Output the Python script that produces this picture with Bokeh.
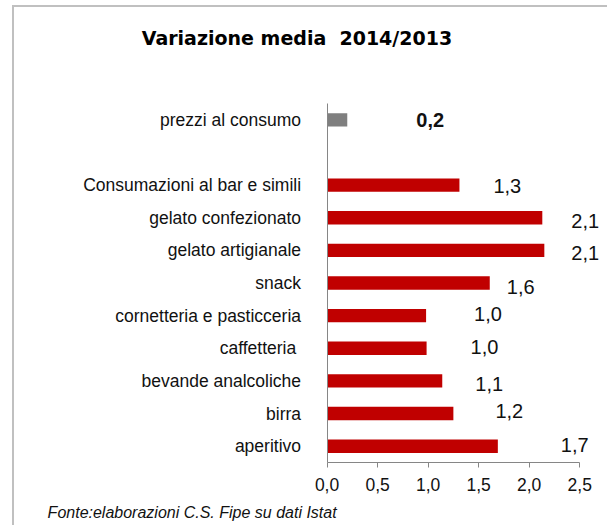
from bokeh.plotting import figure
from bokeh.models import Range1d, FixedTicker, ColumnDataSource
from bokeh.embed import file_html
from bokeh.resources import INLINE
from bokeh.core.properties import value

# ---- data (top to bottom as shown) ----
items = ["prezzi al consumo", "Consumazioni al bar e simili", "gelato confezionato",
         "gelato artigianale", "snack", "cornetteria e pasticceria", "caffetteria ",
         "bevande analcoliche", "birra", "aperitivo"]
values = [0.20, 1.31, 2.13, 2.15, 1.61, 0.98, 0.985, 1.14, 1.25, 1.69]
value_labels = ["0,2", "1,3", "2,1", "2,1", "1,6", "1,0", "1,0", "1,1", "1,2", "1,7"]
x_ticks = [0, 0.5, 1.0, 1.5, 2.0, 2.5]
x_tick_labels = ["0,0", "0,5", "1,0", "1,5", "2,0", "2,5"]
title_text = "Variazione media\u00a0 2014/2013"
source_text = "Fonte:elaborazioni C.S. Fipe su dati Istat"

# ---- styles / label placement (pixels) ----
label_dx = [69, 34, 29, 27, 17, 48, 44, 33, 42, 63]
label_dy = [0, 1, 3, 3, 4, -2, -1, 3, -3, -1]
RED = "#C00000"
GREY = "#7F7F7F"
FONT = "Liberation Sans"

# category slots, bottom -> top, with an empty slot between the reference and the rest
factors = list(reversed(items[1:])) + [" "] + [items[0]]
y_pos = [factors.index(it) for it in items]
colors = [GREY] + [RED] * (len(items) - 1)
styles = ["bold"] + ["normal"] * (len(items) - 1)

# ---- page geometry (pixels) ----
W, H = 607, 525
OX, OY = 14, 7                 # chart-area border offset
CX, CY = OX + 2, OY + 2        # where the drawing area actually starts on the page
AX_LEFT, AX_RIGHT = 327.5, 579.3   # page x of 0 and 2.5
AX_BOTTOM, AX_TOP = 462.25, 104.75  # page y of the plot area's bottom and top
n_slots = len(factors)
x_max = x_ticks[-1]
px_per_x = (AX_RIGHT - AX_LEFT) / x_max
px_per_slot = (AX_BOTTOM - AX_TOP) / n_slots

def to_x(px):
    return (px - AX_LEFT) / px_per_x

def to_y(py):
    return -0.5 + (AX_BOTTOM - py) / px_per_slot

src = ColumnDataSource(dict(y=y_pos, v=values, lab=value_labels, c=colors,
                            dx=label_dx, dy=label_dy, fs=styles))

cw, ch = W - OX, H - OY
p = figure(width=cw, height=ch, output_backend="svg", toolbar_location=None,
           x_range=Range1d(to_x(CX), to_x(CX + cw)), y_range=Range1d(to_y(CY + ch), to_y(CY)),
           min_border=0)
p.margin = (OY - 2, 0, 0, OX - 2)
p.styles = {"border-left": "2px solid #C0C0C0", "border-top": "2px solid #C0C0C0",
            "box-sizing": "content-box"}
p.outline_line_color = None
p.xgrid.visible = False
p.ygrid.visible = False
p.background_fill_color = "white"
p.border_fill_color = "white"

p.hbar(y="y", left=0, right="v", height=0.41, fill_color="c", line_color=None, source=src)
p.text(x="v", y="y", text="lab", x_offset="dx", y_offset="dy", source=src,
       text_align="left", text_baseline="middle", text_font=value(FONT),
       text_font_size="20px", text_font_style="fs", text_color="#111111")

xa = p.xaxis[0]
xa.fixed_location = -0.5
xa.ticker = FixedTicker(ticks=x_ticks)
xa.major_label_overrides = {t: l for t, l in zip(x_ticks, x_tick_labels)}
xa.bounds = (0, x_max)
xa.axis_line_color = "#868686"
xa.major_tick_line_color = "#868686"
xa.major_tick_in = 0
xa.major_tick_out = 5
xa.minor_tick_line_color = None
xa.major_label_text_font = FONT
xa.major_label_text_font_size = "17.5px"
xa.major_label_text_color = "#111111"
xa.major_label_standoff = 10

ya = p.yaxis[0]
ya.fixed_location = 0
ya.ticker = FixedTicker(ticks=y_pos)
ya.major_label_overrides = {yy: it for yy, it in zip(y_pos, items)}
ya.bounds = (-0.5, n_slots - 0.5)
ya.axis_line_color = "#868686"
ya.major_tick_line_color = None
ya.major_tick_in = 0
ya.major_tick_out = 0
ya.minor_tick_line_color = None
ya.major_label_text_font = FONT
ya.major_label_text_font_size = "17.5px"
ya.major_label_text_color = "#111111"
ya.major_label_standoff = 26

# title and source note
p.text(x=[to_x(297.5)], y=[to_y(39)], text=[title_text], text_align="center",
       text_baseline="middle", text_font=value("DejaVu Sans"), text_font_style="bold",
       text_font_size="19px", text_color="black")
p.text(x=[to_x(49)], y=[to_y(512)], text=[source_text], text_align="left",
       text_baseline="middle", text_font=value(FONT), text_font_style="italic",
       text_font_size="16px", text_color="#111111")

open("out.html", "w").write(file_html(p, INLINE))
